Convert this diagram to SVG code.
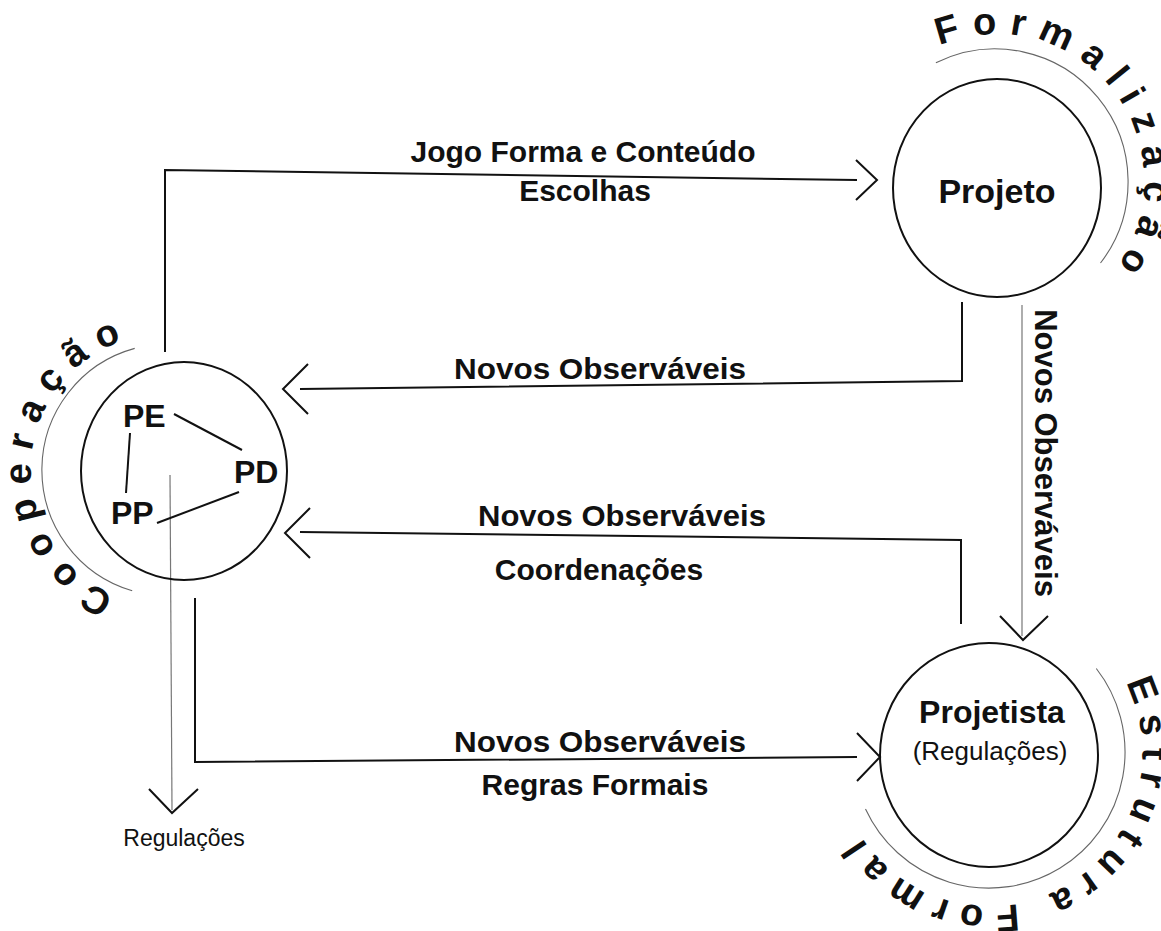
<svg xmlns="http://www.w3.org/2000/svg" width="1161" height="931" viewBox="0 0 1161 931">
  <style>
    .node { fill: none; stroke: #111; stroke-width: 2; }
    .wire { fill: none; stroke: #111; stroke-width: 2; }
    .thin { fill: none; stroke: #777; stroke-width: 1.2; }
    .ring { fill: none; stroke: #666; stroke-width: 1.1; }
    .lbl { font-family: "Liberation Sans", Arial, sans-serif; font-weight: bold; font-size: 30px; fill: #111; text-anchor: middle; }
    .title { font-family: "Liberation Sans", Arial, sans-serif; font-weight: bold; font-size: 34px; fill: #111; text-anchor: middle; }
    .reg { font-family: "Liberation Sans", Arial, sans-serif; font-size: 26px; fill: #111; text-anchor: middle; }
    .role { font-family: "Liberation Sans", Arial, sans-serif; font-weight: bold; font-size: 32px; fill: #111; }
    .curve { font-family: "Liberation Sans", Arial, sans-serif; font-weight: bold; font-size: 38px; fill: #111; }
  </style>
  <defs>
    <!-- baseline circles for the lettering that runs round each node -->
    <path id="pFormal" d="M939.5,45.9 A147,147 0 1,1 1050.5,318.1 A147,147 0 1,1 939.5,45.9"/>
    <path id="pCoop" d="M114.9,595.2 A136,136 0 1,1 221.1,344.8 A136,136 0 1,1 114.9,595.2"/>
    <path id="pEstr" d="M1125.3,682.5 A153,153 0 1,1 852.7,821.5 A153,153 0 1,1 1125.3,682.5"/>
  </defs>
  <rect width="1161" height="931" fill="#fff"/>

  <!-- connectors -->
  <g id="connectors">
    <polyline class="wire" points="165,352 165,170 857,180"/>
    <polyline class="wire" points="856,160 877,180 856,200"/>
    <polyline class="wire" points="962,302 962,381 300,389"/>
    <polyline class="wire" points="308,364 283,389 308,414"/>
    <polyline class="wire" points="961,624 961,540 300,532"/>
    <polyline class="wire" points="310,508 285,533 310,558"/>
    <polyline class="wire" points="195,598 195,762 857,757"/>
    <polyline class="wire" points="857,733 880,757 857,781"/>
    <line class="thin" x1="1022" y1="305" x2="1022" y2="636"/>
    <polyline class="wire" points="1000,616 1023,640 1048,616"/>
    <line class="thin" x1="170" y1="475" x2="172" y2="810"/>
    <polyline class="wire" points="149,789 172,813 198,789"/>

    <text class="lbl" x="583" y="162">Jogo Forma e Conteúdo</text>
    <text class="lbl" x="585" y="201">Escolhas</text>
    <text class="lbl" x="600" y="379" textLength="292" lengthAdjust="spacingAndGlyphs">Novos Observáveis</text>
    <text class="lbl" x="622" y="526" textLength="288" lengthAdjust="spacingAndGlyphs">Novos Observáveis</text>
    <text class="lbl" x="599" y="580">Coordenações</text>
    <text class="lbl" x="600" y="752" textLength="292" lengthAdjust="spacingAndGlyphs">Novos Observáveis</text>
    <text class="lbl" x="595" y="795">Regras Formais</text>
    <text class="lbl" transform="translate(1035,453) rotate(90)" style="font-size:31px">Novos Observáveis</text>
    <text class="reg" x="184" y="846" style="font-size:23px">Regulações</text>
  </g>

  <!-- Projeto -->
  <g id="node-projeto">
    <ellipse class="node" cx="997" cy="188" rx="104" ry="109"/>
    <text class="title" x="997" y="203">Projeto</text>
    <path class="ring" d="M935.9,62.8 A133,133 0 0,1 1100.5,263"/>
    <text class="curve" letter-spacing="12.4"><textPath href="#pFormal">Formalização</textPath></text>
  </g>

  <!-- Cooperação: PE / PD / PP -->
  <g id="node-cooperacao">
    <ellipse class="node" cx="184" cy="471" rx="103" ry="109"/>
    <text class="role" x="123" y="427">PE</text>
    <text class="role" x="234" y="483">PD</text>
    <text class="role" x="111" y="524">PP</text>
    <line class="wire" x1="174" y1="414" x2="242" y2="450"/>
    <line class="wire" x1="130" y1="433" x2="126" y2="493"/>
    <line class="wire" x1="157" y1="523" x2="239" y2="492"/>
    <path class="ring" d="M132.2,590.8 A126,126 0 0,1 134.7,348.4"/>
    <text class="curve" letter-spacing="12"><textPath href="#pCoop">Cooperação</textPath></text>
  </g>

  <!-- Projetista -->
  <g id="node-projetista">
    <ellipse class="node" cx="989" cy="755" rx="109" ry="112"/>
    <text class="title" x="992" y="723" style="font-size:32px">Projetista</text>
    <text class="reg" x="990" y="760">(Regulações)</text>
    <path class="ring" d="M1096.3,668.5 A136,136 0 1,1 865.5,809"/>
    <text class="curve" letter-spacing="10.5"><textPath href="#pEstr">Estrutura Formal</textPath></text>
  </g>
</svg>
